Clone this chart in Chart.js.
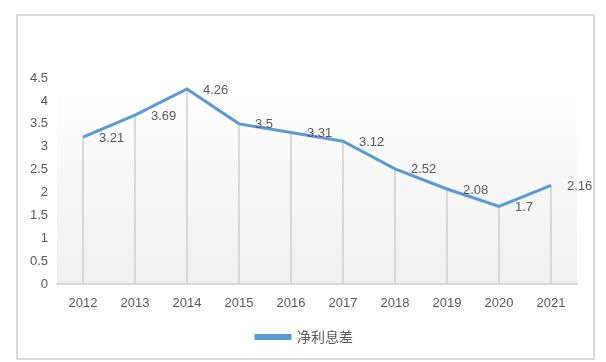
<!DOCTYPE html>
<html>
<head>
<meta charset="utf-8">
<script src="https://cdn.jsdelivr.net/npm/chart.js@4/dist/chart.umd.min.js"></script>
<style>
    body { margin: 0; background: #fff; }
    #wrap { position: relative; width: 606px; height: 362px; }
    #frame {
        position: absolute; left: 16px; top: 14px;
        width: 575px; height: 342px;
        border: 2px solid #d9d9d9;
        pointer-events: none;
    }
</style>
</head>
<body>
<div id="wrap">
    <canvas id="chart" width="606" height="362"></canvas>
    <div id="frame"></div>
</div>
<script>
// Data
const years = ['2012', '2013', '2014', '2015', '2016', '2017', '2018', '2019', '2020', '2021'];
const netInterestMargin = [3.21, 3.69, 4.26, 3.5, 3.31, 3.12, 2.52, 2.08, 1.7, 2.16];
const seriesName = '净利息差';

const textColor = '#595959';
const lineColor = '#5B9BD5';
const gridGray = '#d9d9d9';

/**
 * Soft vertical gradient behind the plot area
 */
const plotBackground = {
    id: 'plotBackground',
    beforeDraw(chart) {
        const { ctx, chartArea: a } = chart;
        const g = ctx.createLinearGradient(0, a.top, 0, a.bottom);
        g.addColorStop(0, '#ffffff');
        g.addColorStop(1, '#f0f0f0');
        ctx.save();
        ctx.fillStyle = g;
        ctx.fillRect(a.left, a.top, a.right - a.left, a.bottom - a.top);
        ctx.restore();
    }
};

/**
 * Vertical drop lines from each point down to the x axis
 */
const dropLines = {
    id: 'dropLines',
    beforeDatasetsDraw(chart) {
        const { ctx, chartArea: a } = chart;
        const meta = chart.getDatasetMeta(0);
        ctx.save();
        ctx.strokeStyle = gridGray;
        ctx.lineWidth = 2;
        meta.data.forEach(pt => {
            ctx.beginPath();
            ctx.moveTo(pt.x, pt.y);
            ctx.lineTo(pt.x, a.bottom);
            ctx.stroke();
        });
        ctx.restore();
    }
};

/**
 * Value labels to the right of each point
 */
const valueLabels = {
    id: 'valueLabels',
    afterDatasetsDraw(chart) {
        const { ctx } = chart;
        const meta = chart.getDatasetMeta(0);
        ctx.save();
        ctx.fillStyle = textColor;
        ctx.font = '13px "Liberation Sans", Arial, sans-serif';
        ctx.textAlign = 'left';
        ctx.textBaseline = 'middle';
        meta.data.forEach((pt, i) => {
            ctx.fillText(String(netInterestMargin[i]), pt.x + 16, pt.y + 1);
        });
        ctx.restore();
    }
};

/**
 * Nudge the legend so it sits centred under the plot like the original
 */
const legendShift = {
    id: 'legendShift',
    afterLayout(chart) {
        if (chart.legend) {
            chart.legend.left += 16;
            chart.legend.right += 16;
        }
    }
};

new Chart(document.getElementById('chart'), {
    type: 'line',
    data: {
        labels: years,
        datasets: [{
            label: seriesName,
            data: netInterestMargin,
            borderColor: lineColor,
            backgroundColor: lineColor,
            borderWidth: 3,
            pointRadius: 0,
            tension: 0,
            fill: false
        }]
    },
    options: {
        responsive: false,
        animation: false,
        devicePixelRatio: 1,
        layout: {
            padding: { top: 78, right: 29, bottom: 8, left: 0 }
        },
        scales: {
            x: {
                offset: true,
                grid: { display: false, drawTicks: false },
                border: { color: gridGray, width: 2 },
                ticks: {
                    color: textColor,
                    padding: 11,
                    font: { family: '"Liberation Sans", Arial, sans-serif', size: 13 }
                }
            },
            y: {
                min: 0,
                max: 4.5,
                afterFit(scale) { scale.width = 57; },
                grid: { display: false, drawTicks: false },
                border: { display: false },
                ticks: {
                    stepSize: 0.5,
                    color: textColor,
                    padding: 9,
                    font: { family: '"Liberation Sans", Arial, sans-serif', size: 13 },
                    callback: value => String(Number(value))
                }
            }
        },
        plugins: {
            legend: {
                position: 'bottom',
                labels: {
                    color: textColor,
                    boxWidth: 34,
                    boxHeight: 3,
                    padding: 8,
                    font: { family: '"Noto Sans CJK SC", sans-serif', size: 14 }
                }
            },
            tooltip: { enabled: false }
        }
    },
    plugins: [plotBackground, dropLines, valueLabels, legendShift]
});
</script>
</body>
</html>
